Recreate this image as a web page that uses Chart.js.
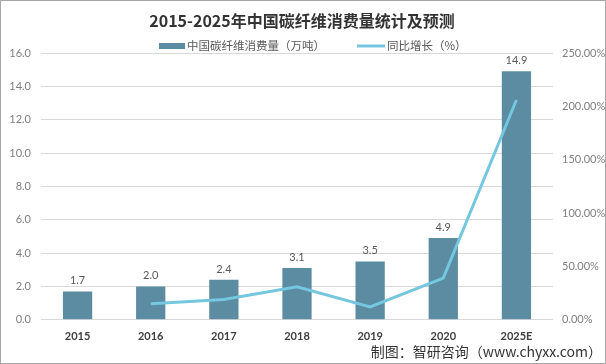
<!DOCTYPE html>
<html>
<head>
<meta charset="utf-8">
<script src="https://cdn.jsdelivr.net/npm/chart.js@4"></script>
<style>
  html, body { margin: 0; padding: 0; background: #fff; }
  #wrap { width: 606px; height: 364px; box-sizing: border-box; border: 1px solid #a6a6a6; }
  canvas { display: block; }
</style>
</head>
<body>
<div id="wrap"><canvas id="chart" width="604" height="362"></canvas></div>
<script>
var years = ['2015', '2016', '2017', '2018', '2019', '2020', '2025E'];
var consumption = [1.7, 2.0, 2.4, 3.1, 3.5, 4.9, 14.9];
var growth = [null, 15, 19, 31, 12, 39, 206];

var barLabel = '中国碳纤维消费量（万吨）';
var lineLabel = '同比增长（%）';
var titleText = '2015-2025年中国碳纤维消费量统计及预测';
var sourceText = '制图：智研咨询（www.chyxx.com）';

var barColor = '#5b8ca1';
var lineColor = '#74c7df';
var fontFamily = "Lato, 'Noto Sans CJK SC', sans-serif";
var cjkFont = "'Noto Sans CJK SC', sans-serif";

// title, legend, source text and bar value labels
var decor = {
    id: 'decor',
    afterDatasetsDraw: function(chart) {
        var ctx = chart.ctx;
        ctx.save();

        // value labels above bars
        var meta = chart.getDatasetMeta(0);
        ctx.font = '11px ' + fontFamily;
        ctx.fillStyle = '#595959';
        ctx.textAlign = 'center';
        ctx.textBaseline = 'bottom';
        meta.data.forEach(function(bar, i) {
            ctx.fillText(consumption[i].toFixed(1), bar.x, bar.y - 5);
        });

        // title
        ctx.font = 'bold 16px ' + cjkFont;
        ctx.fillStyle = '#333333';
        ctx.textBaseline = 'middle';
        ctx.fillText(titleText, 301, 20);

        // legend
        ctx.font = '11.5px ' + cjkFont;
        ctx.textAlign = 'left';
        ctx.fillStyle = barColor;
        ctx.fillRect(158, 42, 26, 6);
        ctx.fillStyle = '#595959';
        ctx.fillText(barLabel, 186, 45);
        ctx.strokeStyle = lineColor;
        ctx.lineWidth = 3;
        ctx.beginPath();
        ctx.moveTo(356, 45);
        ctx.lineTo(384, 45);
        ctx.stroke();
        ctx.fillText(lineLabel, 386, 45);

        // source
        ctx.font = '14px ' + cjkFont;
        ctx.fillStyle = '#333333';
        ctx.textAlign = 'right';
        ctx.fillText(sourceText, 601, 351);

        ctx.restore();
    }
};

new Chart(document.getElementById('chart'), {
    type: 'bar',
    data: {
        labels: years,
        datasets: [
            {
                type: 'bar',
                label: barLabel,
                data: consumption,
                yAxisID: 'y',
                backgroundColor: barColor,
                barPercentage: 0.4,
                categoryPercentage: 1.0,
                order: 1
            },
            {
                type: 'line',
                label: lineLabel,
                data: growth,
                yAxisID: 'y2',
                borderColor: lineColor,
                backgroundColor: lineColor,
                borderWidth: 3,
                pointRadius: 0,
                tension: 0,
                order: 0
            }
        ]
    },
    options: {
        responsive: false,
        animation: false,
        layout: { padding: { top: 52, bottom: 18, left: 0, right: 0 } },
        plugins: {
            legend: { display: false },
            title: { display: false },
            tooltip: { enabled: false }
        },
        scales: {
            x: {
                grid: { display: false },
                border: { display: false },
                ticks: {
                    color: '#404040',
                    font: { family: fontFamily, size: 11, weight: 'bold' },
                    padding: 2
                }
            },
            y: {
                position: 'left',
                min: 0,
                max: 16,
                afterFit: function(axis) { axis.width = 40; },
                grid: { color: '#d9d9d9', drawTicks: false },
                border: { display: false },
                ticks: {
                    stepSize: 2,
                    padding: 10,
                    color: '#7f7f7f',
                    font: { family: fontFamily, size: 11 },
                    callback: function(v) { return v.toFixed(1); }
                }
            },
            y2: {
                position: 'right',
                min: 0,
                max: 250,
                afterFit: function(axis) { axis.width = 52; },
                grid: { display: false, drawTicks: false },
                border: { display: false },
                ticks: {
                    stepSize: 50,
                    padding: 9,
                    color: '#7f7f7f',
                    font: { family: fontFamily, size: 11 },
                    callback: function(v) { return v.toFixed(2) + '%'; }
                }
            }
        }
    },
    plugins: [decor]
});
</script>
</body>
</html>
